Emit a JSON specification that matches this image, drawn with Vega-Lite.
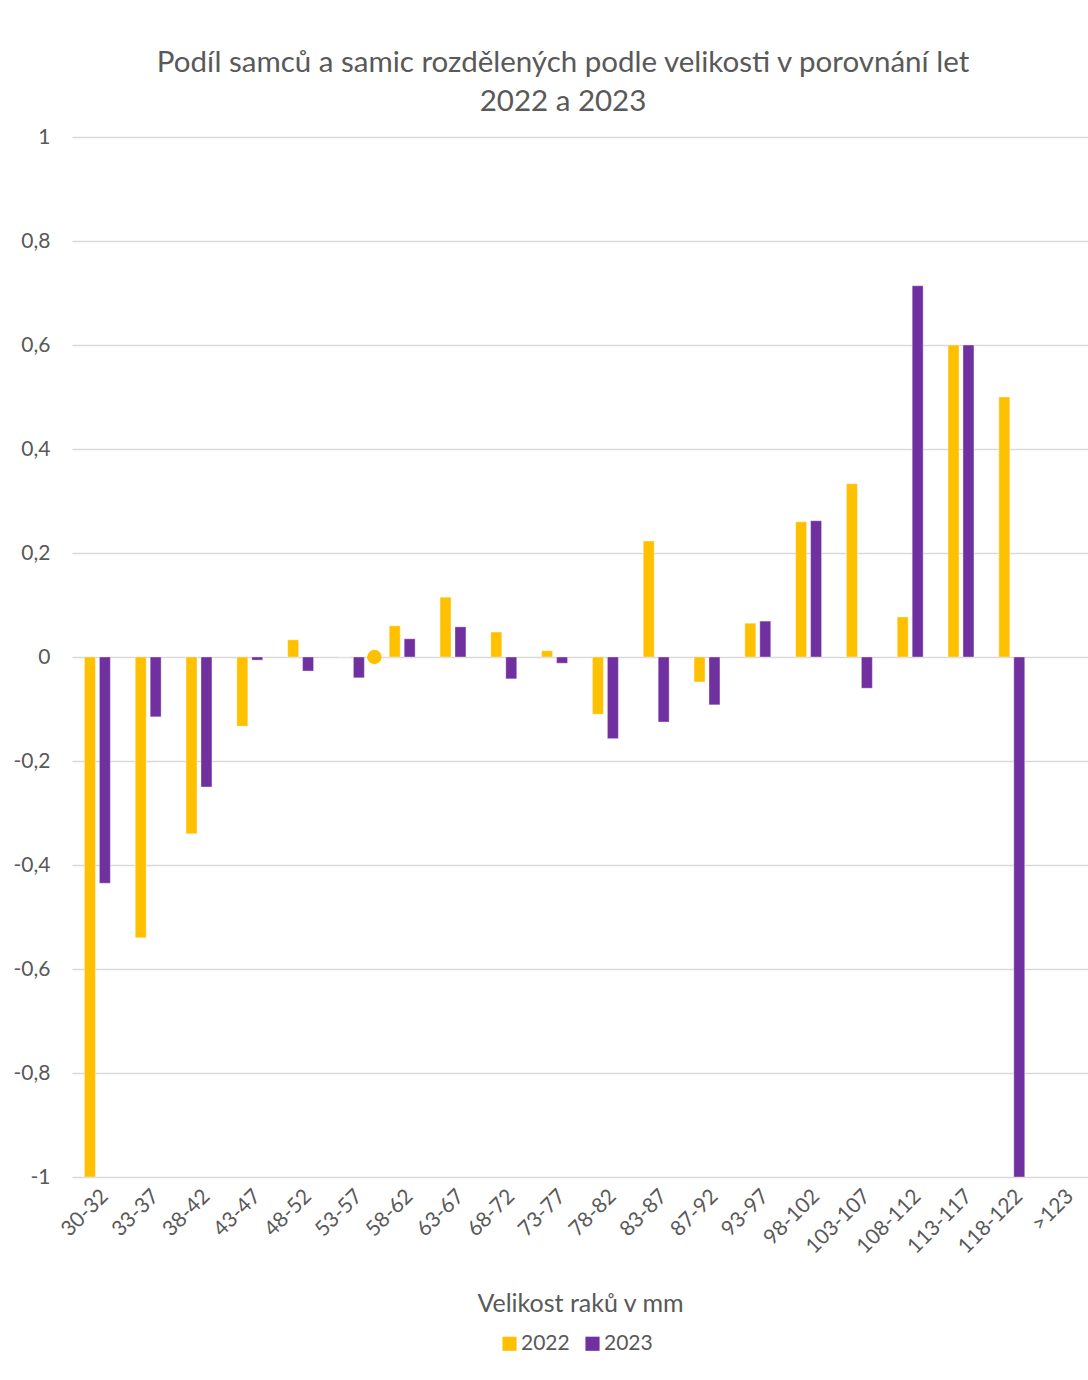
{
  "$schema": "https://vega.github.io/schema/vega-lite/v6.json",
  "width": 1016,
  "height": 1040,
  "autosize": {"type": "none"},
  "padding": {"left": 72, "top": 137, "right": 0, "bottom": 203},
  "background": "white",
  "config": {
    "font": "Lato",
    "view": {"stroke": null},
    "axis": {"labelColor": "#595959", "titleColor": "#595959", "labelFont": "Lato", "titleFont": "Lato"},
    "legend": {"labelColor": "#595959", "labelFont": "Lato"}
  },
  "title": {
    "text": ["Podíl samců a samic rozdělených podle velikosti v porovnání let", "2022 a 2023"],
    "fontSize": 29.5,
    "fontWeight": "normal",
    "color": "#595959",
    "font": "Lato",
    "lineHeight": 39,
    "anchor": "middle",
    "dx": -17,
    "offset": 9
  },
  "datasets": {
    "bars": [
      {"size": "30-32", "year": "2022", "value": -1},
      {"size": "30-32", "year": "2023", "value": -0.435},
      {"size": "33-37", "year": "2022", "value": -0.54},
      {"size": "33-37", "year": "2023", "value": -0.115},
      {"size": "38-42", "year": "2022", "value": -0.34},
      {"size": "38-42", "year": "2023", "value": -0.25},
      {"size": "43-47", "year": "2022", "value": -0.133},
      {"size": "43-47", "year": "2023", "value": -0.006},
      {"size": "48-52", "year": "2022", "value": 0.033},
      {"size": "48-52", "year": "2023", "value": -0.027},
      {"size": "53-57", "year": "2022", "value": 0},
      {"size": "53-57", "year": "2023", "value": -0.04},
      {"size": "58-62", "year": "2022", "value": 0.06},
      {"size": "58-62", "year": "2023", "value": 0.035},
      {"size": "63-67", "year": "2022", "value": 0.115},
      {"size": "63-67", "year": "2023", "value": 0.058},
      {"size": "68-72", "year": "2022", "value": 0.048},
      {"size": "68-72", "year": "2023", "value": -0.042},
      {"size": "73-77", "year": "2022", "value": 0.012},
      {"size": "73-77", "year": "2023", "value": -0.012},
      {"size": "78-82", "year": "2022", "value": -0.11},
      {"size": "78-82", "year": "2023", "value": -0.157},
      {"size": "83-87", "year": "2022", "value": 0.223},
      {"size": "83-87", "year": "2023", "value": -0.125},
      {"size": "87-92", "year": "2022", "value": -0.048},
      {"size": "87-92", "year": "2023", "value": -0.092},
      {"size": "93-97", "year": "2022", "value": 0.065},
      {"size": "93-97", "year": "2023", "value": 0.069},
      {"size": "98-102", "year": "2022", "value": 0.26},
      {"size": "98-102", "year": "2023", "value": 0.262},
      {"size": "103-107", "year": "2022", "value": 0.333},
      {"size": "103-107", "year": "2023", "value": -0.06},
      {"size": "108-112", "year": "2022", "value": 0.077},
      {"size": "108-112", "year": "2023", "value": 0.714},
      {"size": "113-117", "year": "2022", "value": 0.6},
      {"size": "113-117", "year": "2023", "value": 0.6},
      {"size": "118-122", "year": "2022", "value": 0.5},
      {"size": "118-122", "year": "2023", "value": -1}
    ],
    "marker": [
      {"size": "53-57", "year": "2022", "value": 0}
    ]
  },
  "layer": [
    {
      "data": {"name": "bars"},
      "mark": {"type": "bar", "stroke": "white", "strokeWidth": 0.6, "strokeOpacity": 0.6},
      "encoding": {
        "x": {
          "field": "size",
          "type": "nominal",
          "sort": ["30-32","33-37","38-42","43-47","48-52","53-57","58-62","63-67","68-72","73-77","78-82","83-87","87-92","93-97","98-102","103-107","108-112","113-117","118-122",">123"],
          "scale": {"domain": ["30-32","33-37","38-42","43-47","48-52","53-57","58-62","63-67","68-72","73-77","78-82","83-87","87-92","93-97","98-102","103-107","108-112","113-117","118-122",">123"], "paddingInner": 0, "paddingOuter": 0},
          "axis": {
            "title": "Velikost raků v mm",
            "titleFontSize": 25,
            "titleFontWeight": "normal",
            "titlePadding": 34,
            "labelAngle": -45,
            "labelFontSize": 21,
            "labelPadding": 8,
            "domain": false,
            "ticks": false,
            "grid": false
          }
        },
        "xOffset": {
          "field": "year",
          "type": "nominal",
          "scale": {"paddingInner": 0.267, "paddingOuter": 0.833}
        },
        "y": {
          "field": "value",
          "type": "quantitative",
          "scale": {"domain": [-1, 1], "nice": false, "zero": false},
          "axis": {
            "title": null,
            "values": [-1, -0.8, -0.6, -0.4, -0.2, 0, 0.2, 0.4, 0.6, 0.8, 1],
            "labelExpr": "(datum.value < -0.001 ? '-' : '') + replace(format(abs(datum.value), '.1~f'), '.', ',')",
            "labelFontSize": 21,
            "labelPadding": 22,
            "domain": false,
            "ticks": false,
            "grid": true,
            "gridColor": "#d9d9d9",
            "gridWidth": 1.5
          }
        },
        "y2": {"datum": 0},
        "color": {
          "field": "year",
          "type": "nominal",
          "scale": {"domain": ["2022", "2023"], "range": ["#FFC000", "#7030A0"]},
          "legend": {
            "title": null,
            "orient": "none",
            "legendX": 427,
            "legendY": 1196,
            "direction": "horizontal",
            "symbolType": "square",
            "symbolSize": 200,
            "symbolStrokeWidth": 0,
            "labelFontSize": 21,
            "labelOffset": 1,
            "columnPadding": 12
          }
        }
      }
    },
    {
      "data": {"name": "marker"},
      "mark": {"type": "point", "filled": true, "size": 210, "xOffset": 23, "opacity": 1, "color": "#FFC000"},
      "encoding": {
        "x": {"field": "size", "type": "nominal"},
        "y": {"field": "value", "type": "quantitative"}
      }
    }
  ]
}
